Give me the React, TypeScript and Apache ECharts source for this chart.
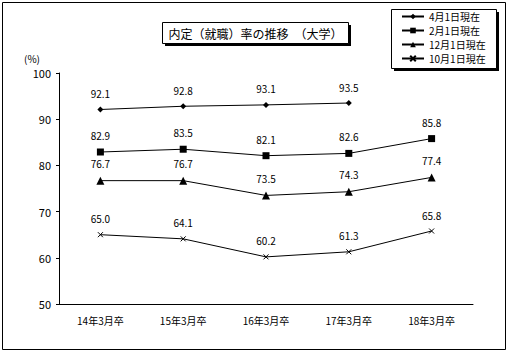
import React, { useEffect, useRef } from "react";
import * as echarts from "echarts";

const categories = ["14年3月卒", "15年3月卒", "16年3月卒", "17年3月卒", "18年3月卒"];
const seriesNames = ["4月1日現在", "2月1日現在", "12月1日現在", "10月1日現在"];
const apr = [92.1, 92.8, 93.1, 93.5, null];
const feb = [82.9, 83.5, 82.1, 82.6, 85.8];
const dec = [76.7, 76.7, 73.5, 74.3, 77.4];
const oct = [65.0, 64.1, 60.2, 61.3, 65.8];
const yTicks = { min: 50, max: 100, interval: 10 };
const titleText = "内定（就職）率の推移　（大学）";

const FONT = "'Noto Sans CJK JP', 'Noto Sans', sans-serif";

export default function App() {
  const ref = useRef<HTMLDivElement>(null);
  useEffect(() => {
    if (!ref.current) return;
    const chart = echarts.init(ref.current, null, { renderer: "svg" });
    const symbols = ["diamond", "rect", "triangle", "path://M-1,-1L1,1M1,-1L-1,1"];
    const sizes = [6, 7, 8, 5];
    const datas = [apr, feb, dec, oct];
    chart.setOption({
      animation: false,
      backgroundColor: "#fff",
      textStyle: { fontFamily: FONT, color: "#000" },
      grid: { left: 59, top: 73, right: 35, bottom: 49, containLabel: false },
      xAxis: {
        type: "category",
        data: categories,
        boundaryGap: true,
        axisLine: { lineStyle: { color: "#000", width: 1 } },
        axisTick: { inside: true, length: 4, lineStyle: { color: "#000" } },
        axisLabel: { color: "#000", fontSize: 10, margin: 11, fontFamily: FONT },
        splitLine: { show: false },
      },
      yAxis: {
        type: "value",
        min: yTicks.min,
        max: yTicks.max,
        interval: yTicks.interval,
        axisLine: { show: true, lineStyle: { color: "#000", width: 1 } },
        axisTick: { show: true, inside: false, length: 3, lineStyle: { color: "#000" } },
        axisLabel: { color: "#000", fontSize: 11, margin: 8, fontFamily: FONT },
        splitLine: { show: false },
      },
      legend: {
        show: true,
        orient: "vertical",
        left: 401,
        top: 10,
        padding: [0, 0, 0, 0],
        itemGap: 1,
        itemWidth: 22,
        itemHeight: 7,
        z: 10,
        data: seriesNames,
        textStyle: { fontSize: 10, color: "#000", fontFamily: FONT, lineHeight: 13 },
        formatter: (n: string) => (n.length < 6 ? "\u2007" + n : n),
      },
      graphic: [
        { type: "rect", z: -10, shape: { x: 2.5, y: 2.5, width: 503, height: 347 }, style: { fill: "none", stroke: "#000", lineWidth: 1 } },
        { type: "rect", z: 1, shape: { x: 165, y: 25, width: 186, height: 21 }, style: { fill: "#000" } },
        { type: "rect", z: 2, shape: { x: 162.5, y: 22.5, width: 186, height: 21 }, style: { fill: "#fff", stroke: "#000", lineWidth: 1 } },
        { type: "text", z: 3, x: 255.5, y: 33, style: { text: titleText, fontSize: 12, fontFamily: FONT, fill: "#000", align: "center", verticalAlign: "middle" } },
        { type: "rect", z: 1, shape: { x: 394, y: 12, width: 105, height: 59 }, style: { fill: "#000" } },
        { type: "rect", z: 2, shape: { x: 391.5, y: 9.5, width: 105, height: 59 }, style: { fill: "#fff", stroke: "#000", lineWidth: 1 } },
        { type: "text", z: 3, x: 32, y: 58, style: { text: "(%)", fontSize: 10, fontFamily: FONT, fill: "#000", align: "center", verticalAlign: "middle" } },
      ],
      series: datas.map((d, i) => ({
        name: seriesNames[i],
        type: "line",
        data: d,
        symbol: symbols[i],
        symbolSize: sizes[i],
        showAllSymbol: true,
        connectNulls: false,
        z: 5,
        lineStyle: { color: "#000", width: 1 },
        itemStyle: { color: "#000", borderColor: "#000", borderWidth: i === 3 ? 1 : 0 },
        label: {
          show: true,
          position: "top",
          distance: 8,
          fontSize: 10,
          color: "#000",
          fontFamily: FONT,
          formatter: (p: any) => (p.value == null ? "" : Number(p.value).toFixed(1)),
        },
      })),
    });
    return () => chart.dispose();
  }, []);
  return (
    <div
      ref={ref}
      style={{ position: "fixed", left: 0, top: 0, width: 508, height: 353, background: "#fff" }}
    />
  );
}
